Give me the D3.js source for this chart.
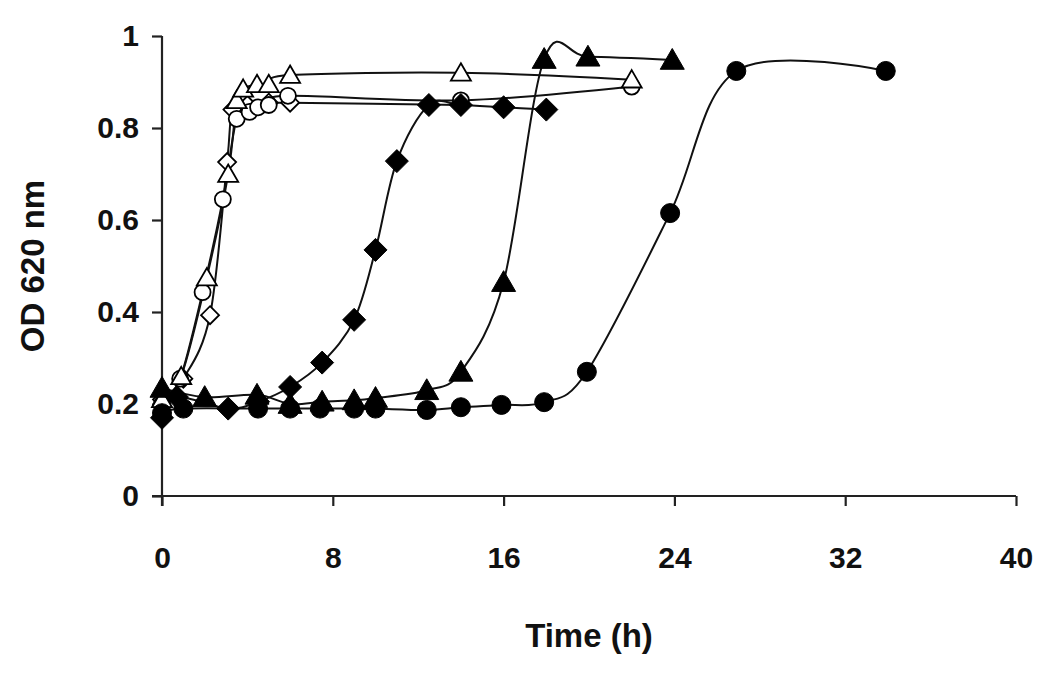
<!DOCTYPE html>
<html>
<head>
<meta charset="utf-8">
<script src="https://cdn.jsdelivr.net/npm/d3@7"></script>
<style>
  body { margin: 0; background: #fff; }
  svg { display: block; font-family: "Liberation Sans", Arial, sans-serif; }
</style>
</head>
<body>
<div id="chart"></div>
<script>
// open symbols (fast growers)
const openTriTime  = [0, 0.9, 2.1, 3.1, 3.5, 3.8, 4.45, 5, 6, 14, 22];
const openTriOD    = [0.21, 0.26, 0.475, 0.70, 0.86, 0.885, 0.895, 0.895, 0.915, 0.92, 0.905];
const openCircTime = [0, 0.85, 1.9, 2.85, 3.5, 4.1, 4.5, 5, 5.9, 14, 22];
const openCircOD   = [0.2, 0.255, 0.443, 0.645, 0.82, 0.835, 0.845, 0.85, 0.87, 0.86, 0.89];
const openDiaTime  = [0, 1, 2.25, 3.05, 3.3, 4, 5, 6, 14];
const openDiaOD    = [0.21, 0.255, 0.393, 0.726, 0.84, 0.85, 0.855, 0.855, 0.85];

// filled symbols
const diaTime  = [0, 0.7, 3.1, 4.5, 6, 7.5, 9, 10, 11, 12.5, 14, 16, 18];
const diaOD    = [0.17, 0.215, 0.19, 0.205, 0.237, 0.29, 0.383, 0.535, 0.728, 0.85, 0.85, 0.845, 0.84];
const triTime  = [0, 2, 4.45, 6, 7.5, 9, 10, 12.4, 14, 16, 17.9, 19.95, 23.9];
const triOD    = [0.235, 0.215, 0.22, 0.2, 0.205, 0.208, 0.213, 0.23, 0.27, 0.465, 0.95, 0.955, 0.948];
const circTime = [0, 1, 4.5, 6, 7.4, 9, 10, 12.4, 14, 15.9, 17.9, 19.9, 23.8, 26.9, 33.9];
const circOD   = [0.18, 0.19, 0.19, 0.19, 0.19, 0.19, 0.19, 0.187, 0.193, 0.198, 0.204, 0.27, 0.615, 0.924, 0.924];

const xTicks = [0, 8, 16, 24, 32, 40];
const yTicks = [0, 0.2, 0.4, 0.6, 0.8, 1];

const width = 1050;
const height = 677;

const svg = d3.select("#chart")
    .append("svg")
    .attr("width", width)
    .attr("height", height);

const xScale = d3.scaleLinear().domain([0, 40]).range([162, 1016]);
const yScale = d3.scaleLinear().domain([0, 1]).range([496, 36]);

// axes
const yAxis = d3.axisLeft(yScale)
    .tickValues(yTicks)
    .tickSize(10)
    .tickPadding(13)
    .tickFormat(d => (d === 0 || d === 1) ? d : d.toFixed(1));

const xAxis = d3.axisBottom(xScale)
    .tickValues(xTicks)
    .tickSize(10)
    .tickPadding(41)
    .tickFormat(d => d);

const xAxisG = svg.append("g")
    .attr("transform", `translate(0, ${yScale(0)})`)
    .call(xAxis);
xAxisG.select(".domain").attr("d", `M${xScale(0) - 10},0H${xScale(40)}`);

const yAxisG = svg.append("g")
    .attr("transform", `translate(${xScale(0)}, 0)`)
    .call(yAxis);
yAxisG.select(".domain").attr("d", `M0,${yScale(1)}V${yScale(0) + 10}`);

svg.selectAll(".domain, .tick line")
    .attr("stroke", "#222")
    .attr("stroke-width", 2.2);
svg.selectAll(".tick text")
    .attr("fill", "#111")
    .style("font-size", "30px")
    .style("font-weight", "bold");

svg.append("text")
    .attr("x", (xScale(0) + xScale(40)) / 2)
    .attr("y", 647)
    .attr("text-anchor", "middle")
    .attr("fill", "#111")
    .style("font-size", "33px")
    .style("font-weight", "bold")
    .text("Time (h)");

svg.append("text")
    .attr("transform", `translate(44, ${(yScale(0) + yScale(1)) / 2}) rotate(-90)`)
    .attr("text-anchor", "middle")
    .attr("fill", "#111")
    .style("font-size", "33px")
    .style("font-weight", "bold")
    .text("OD 620 nm");

// series
const series = [
    { time: openDiaTime, od: openDiaOD, shape: "diamond", fill: "#fff", size: 9 },
    { time: openCircTime, od: openCircOD, shape: "circle", fill: "#fff", size: 8 },
    { time: openTriTime, od: openTriOD, shape: "triangle", fill: "#fff", size: 10 },
    { time: circTime, od: circOD, shape: "circle", fill: "#000", size: 9.5 },
    { time: triTime, od: triOD, shape: "triangle", fill: "#000", size: 12 },
    { time: diaTime, od: diaOD, shape: "diamond", fill: "#000", size: 11.5 }
];

const lineGenerator = d3.line()
    .x(d => xScale(d[0]))
    .y(d => yScale(d[1]))
    .curve(d3.curveCardinal.tension(0));

const markerPath = (shape, r) => {
    if (shape === "circle") return d3.symbol(d3.symbolCircle, Math.PI * r * r)();
    if (shape === "diamond") return `M0,${-r}L${r},0L0,${r}L${-r},0Z`;
    const h = r * Math.sqrt(3);
    return `M0,${-h * 0.55}L${r},${h * 0.45}L${-r},${h * 0.45}Z`;
};

const g = svg.append("g");

series.forEach(s => {
    const pts = s.time.map((t, i) => [t, s.od[i]]);
    g.append("path")
        .attr("fill", "none")
        .attr("stroke", "#111")
        .attr("stroke-width", 2)
        .attr("d", lineGenerator(pts));
});

series.forEach(s => {
    const pts = s.time.map((t, i) => [t, s.od[i]]);
    g.append("g").selectAll("path")
        .data(pts)
        .enter().append("path")
        .attr("transform", d => `translate(${xScale(d[0])}, ${yScale(d[1])})`)
        .attr("d", markerPath(s.shape, s.size))
        .attr("fill", s.fill)
        .attr("stroke", "#000")
        .attr("stroke-width", s.fill === "#fff" ? 1.8 : 1);
});
</script>
</body>
</html>
